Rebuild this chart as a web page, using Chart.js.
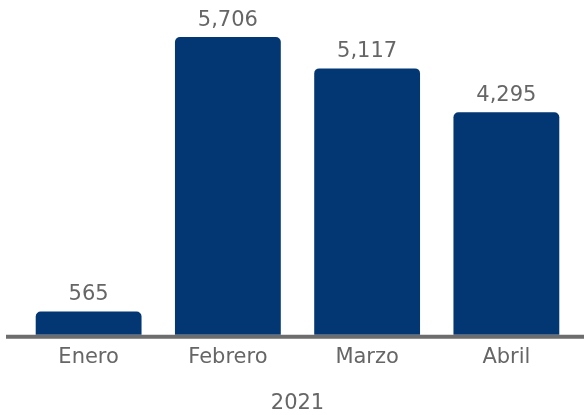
<!DOCTYPE html>
<html>
<head>
<meta charset="utf-8">
<script src="https://cdn.jsdelivr.net/npm/chart.js@4"></script>
<style>
  body { margin: 0; background: #fff; }
  #wrap { width: 584px; height: 415px; }
</style>
</head>
<body>
<div id="wrap"><canvas id="chart"></canvas></div>
<script>
// chart data
var months = ['Enero', 'Febrero', 'Marzo', 'Abril'];
var values = [565, 5706, 5117, 4295];
var yearLabel = '2021';

var grey = '#666666';
var navy = '#033773';
var fontFamily = '"DejaVu Sans", sans-serif';

// draws the value above each bar and the long base line
var barLabels = {
    id: 'barLabels',
    afterDatasetsDraw: function (chart) {
        var ctx = chart.ctx;
        var meta = chart.getDatasetMeta(0);
        var xScale = chart.scales.x;
        ctx.save();
        // base line, runs past the plot area on both sides
        ctx.strokeStyle = '#6d6d6d';
        ctx.lineWidth = 4;
        ctx.beginPath();
        ctx.moveTo(6, xScale.top + 2);
        ctx.lineTo(chart.width, xScale.top + 2);
        ctx.stroke();

        ctx.fillStyle = grey;
        ctx.font = '21px ' + fontFamily;
        ctx.textAlign = 'center';
        ctx.textBaseline = 'alphabetic';
        meta.data.forEach(function (bar, i) {
            ctx.fillText(values[i].toLocaleString('en-US'), bar.x, bar.y - 11);
        });
        ctx.restore();
    }
};

var ctx = document.getElementById('chart').getContext('2d');
var chart = new Chart(ctx, {
    type: 'bar',
    data: {
        labels: months,
        datasets: [{
            data: values,
            backgroundColor: navy,
            borderRadius: { topLeft: 5, topRight: 5 },
            borderSkipped: 'start',
            barPercentage: 0.76,
            categoryPercentage: 1
        }]
    },
    options: {
        responsive: true,
        maintainAspectRatio: false,
        animation: false,
        layout: { padding: { left: 19, right: 8, top: 2, bottom: 0 } },
        plugins: {
            legend: { display: false },
            tooltip: { enabled: false }
        },
        scales: {
            y: {
                display: false,
                min: 130,
                max: 6360
            },
            x: {
                grid: { display: false, drawTicks: false },
                border: { display: false },
                ticks: {
                    color: grey,
                    padding: 10,
                    font: { family: fontFamily, size: 21, lineHeight: 1.2 }
                },
                title: {
                    display: true,
                    text: yearLabel,
                    color: grey,
                    padding: { top: 12, bottom: 0 },
                    font: { family: fontFamily, size: 21, lineHeight: 1.1 }
                }
            }
        }
    },
    plugins: [barLabels]
});
</script>
</body>
</html>
